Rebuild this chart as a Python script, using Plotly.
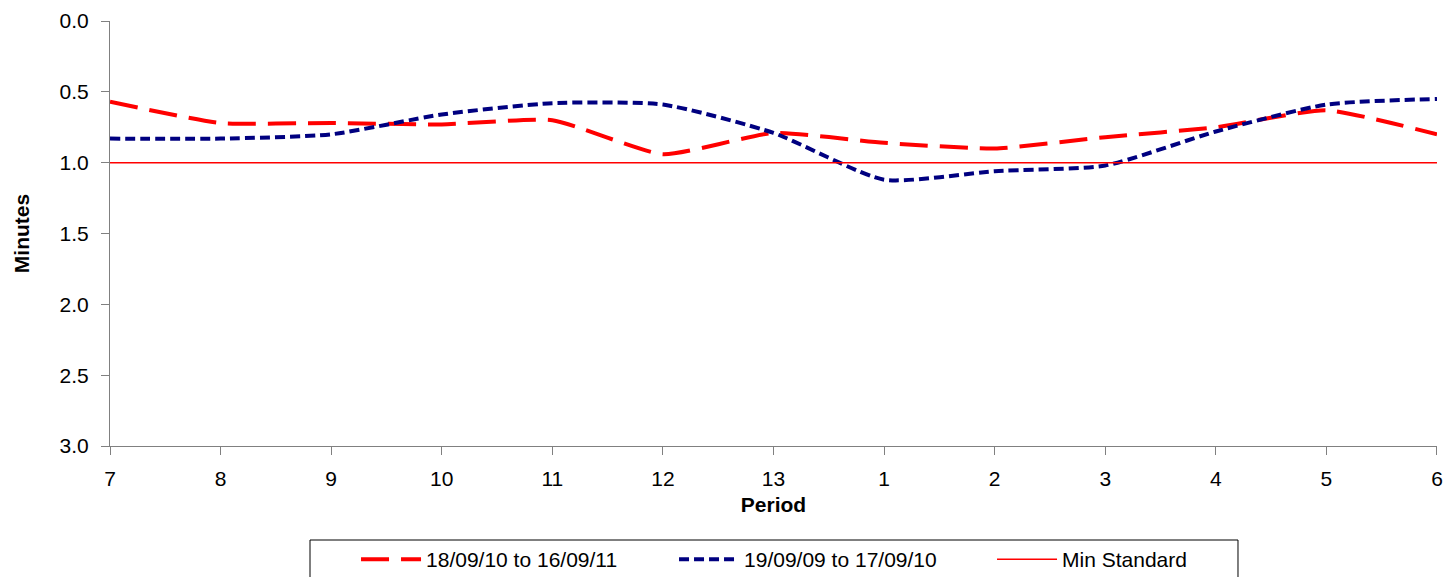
import plotly.graph_objects as go

periods = ["7", "8", "9", "10", "11", "12", "13", "1", "2", "3", "4", "5", "6"]
series_2011 = [0.57, 0.72, 0.72, 0.73, 0.70, 0.94, 0.79, 0.86, 0.90, 0.82, 0.75, 0.63, 0.80]
series_2010 = [0.83, 0.83, 0.80, 0.66, 0.58, 0.59, 0.79, 1.12, 1.06, 1.02, 0.78, 0.59, 0.55]
min_standard = [1.0] * len(periods)

fig = go.Figure()
fig.add_trace(go.Scatter(x=periods, y=series_2011, name="18/09/10 to 16/09/11", mode="lines",
                         line=dict(color="#FF0000", width=4, dash="28px,12px", shape="spline", smoothing=0.5)))
fig.add_trace(go.Scatter(x=periods, y=series_2010, name="19/09/09 to 17/09/10", mode="lines",
                         line=dict(color="#000080", width=4, dash="10px,5px", shape="spline", smoothing=0.6)))
fig.add_trace(go.Scatter(x=periods, y=min_standard, name="Min Standard", mode="lines",
                         line=dict(color="#FF0000", width=1.5)))

FONT = "Liberation Sans, Arial, sans-serif"
axis_font = dict(family=FONT, size=21, color="black")
fig.update_layout(
    width=1443, height=577,
    margin=dict(l=110, r=6, t=21, b=131, autoexpand=False),
    plot_bgcolor="white", paper_bgcolor="white",
    font=axis_font,
    showlegend=True,
    legend=dict(orientation="h", x=0.1854, xanchor="left", y=-0.2188, yanchor="top",
                borderwidth=0, bgcolor="rgba(0,0,0,0)", entrywidth=243, entrywidthmode="pixels",
                font=dict(family=FONT, size=21, color="black"), itemwidth=60,
                tracegroupgap=0),
    shapes=[dict(type="rect", xref="paper", yref="paper", x0=0.15072, x1=0.85003,
                 y0=-0.22118, y1=-0.36, line=dict(color="black", width=1), fillcolor="rgba(0,0,0,0)")],
    xaxis=dict(type="category", range=[-0.0001, 12.0001], showgrid=False, showline=True, linecolor="#808080",
               ticks="outside", ticklen=8, tickcolor="#808080", tickfont=axis_font, ticklabelstandoff=6,
               title=dict(text="<b>Period</b>", font=axis_font, standoff=8)),
    yaxis=dict(range=[3, 0], dtick=0.5, tickformat=".1f", showgrid=False, zeroline=False, showline=True,
               linecolor="#808080", ticks="outside", ticklen=8, tickcolor="#808080", tickfont=axis_font,
               ticklabelstandoff=8,
               title=dict(text="<b>Minutes</b>", font=axis_font, standoff=24)),
)
fig.write_html("out.html", config={"displayModeBar": False},
               post_script="document.body.style.margin='0px';document.body.style.overflow='hidden';")
